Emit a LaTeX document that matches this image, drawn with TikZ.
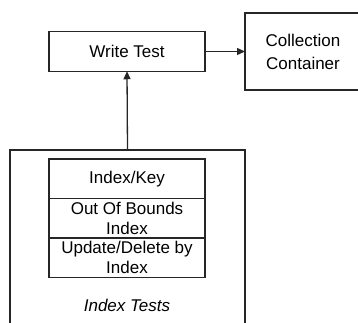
\documentclass[tikz,border=0pt]{standalone}
\usepackage{fontspec}
\setmainfont{Liberation Sans}
\usetikzlibrary{positioning, arrows.meta}

\tikzset{
	box/.style={draw=black!85, line width=1.3pt, rectangle, outer sep=0pt, align=center,
		font=\fontsize{17}{20}\selectfont},
	cell/.style={box, minimum width=156pt, minimum height=39.5pt, inner sep=0pt},
	link/.style={draw=black!85, line width=1.3pt, -{Triangle[length=8pt,width=7pt]}}
}

\begin{document}
\begin{tikzpicture}[x=1pt, y=-1pt, node distance=0pt]
		\useasboundingbox (0,0) rectangle (358,323);
		\clip (0,0) rectangle (358,323);

		% Outer group and its title
		\node[box, minimum width=235pt, minimum height=200pt] (grp) at (127.5,250) {};
		\node[font=\fontsize{17}{20}\selectfont\itshape] (title) at (127,305) {Index Tests};

		% The stacked test cells
		\node[cell, anchor=north] (idx) at (127,159) {Index/Key};
		\node[cell, below=of idx] (oob) {Out Of Bounds\\Index};
		\node[cell, below=of oob] (upd) {Update/Delete by\\Index};

		% Upper row
		\node[cell] (write) at (127,51.5) {Write Test};
		\node[box, minimum width=116pt, minimum height=77pt, font=\fontsize{17}{23}\selectfont]
			(coll) at (303,51.5) {Collection\\Container};

		% Connect them
		\draw[link] (grp.north) -- (write.south);
		\draw[link] (write.east) -- (coll.west);
	\end{tikzpicture}
\end{document}
